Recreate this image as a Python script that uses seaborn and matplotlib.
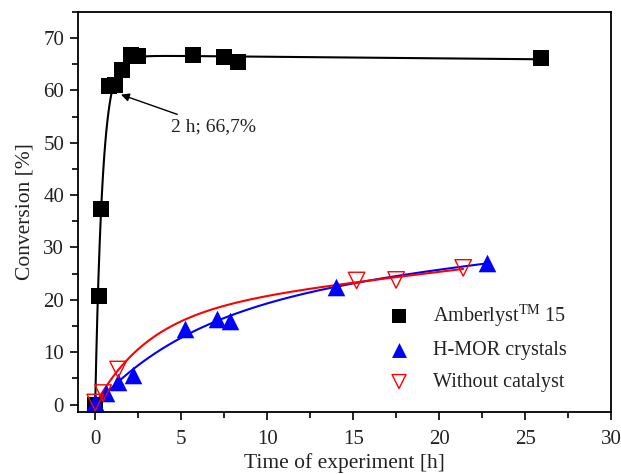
import numpy as np
import pandas as pd
import matplotlib
matplotlib.use("Agg")
import matplotlib.pyplot as plt
from matplotlib.ticker import MultipleLocator
import seaborn as sns

# ---- data ----
amb_t = [0.0, 0.2, 0.35, 0.8, 1.15, 1.55, 2.1, 2.5, 5.7, 7.5, 8.3, 25.9]
amb_y = [0.0, 20.8, 37.4, 60.9, 61.0, 63.8, 66.7, 66.5, 66.7, 66.4, 65.5, 66.2]

hmor_t = [0.0, 0.64, 1.33, 2.2, 5.2, 7.1, 7.86, 14.0, 22.8]
hmor_y = [0.4, 2.3, 4.4, 5.6, 14.5, 16.3, 16.0, 22.5, 27.0]

noc_t = [0.0, 0.46, 1.33, 15.2, 17.5, 21.4]
noc_y = [0.4, 2.2, 6.7, 23.7, 23.8, 26.1]

labels = ["Amberlyst$^{\\mathrm{TM}}$ 15", "H-MOR crystals", "Without catalyst"]

sns.set_theme(style="ticks")
plt.rcParams['font.family'] = ['Liberation Serif', 'DejaVu Serif']
plt.rcParams['mathtext.fontset'] = 'custom'
plt.rcParams['mathtext.rm'] = 'Liberation Serif'


def fit_curve(t, y, rates1, rates2=None, linear=False):
    """Least-squares fit of saturating exponentials (+ optional linear term);
    the exponential amplitudes are kept non-negative so the curve rises smoothly."""
    t = np.asarray(t, float); y = np.asarray(y, float)
    best = None
    r2list = rates2 if rates2 is not None else [None]
    for b in rates1:
        for b2 in r2list:
            cols = [1 - np.exp(-b * t)]
            if b2 is not None:
                cols.append(1 - np.exp(-b2 * t))
            if linear:
                cols.append(t)
            A = np.column_stack(cols)
            coef, *_ = np.linalg.lstsq(A, y, rcond=None)
            nexp = 2 if b2 is not None else 1
            if np.any(coef[:nexp] < 0):
                continue
            err = np.sum((A @ coef - y) ** 2)
            if best is None or err < best[0]:
                best = (err, b, b2, coef)
    _, b, b2, coef = best

    def f(x):
        x = np.asarray(x, float)
        i = 0
        r = coef[i] * (1 - np.exp(-b * x)); i += 1
        if b2 is not None:
            r = r + coef[i] * (1 - np.exp(-b2 * x)); i += 1
        if linear:
            r = r + coef[i] * x
        return r
    return f

f_amb = fit_curve(amb_t, amb_y, np.linspace(0.5, 8, 150), np.linspace(0.05, 1.0, 60), linear=True)
f_hm = fit_curve(hmor_t, hmor_y, np.linspace(0.01, 2, 800), linear=True)
f_nc = fit_curve(noc_t, noc_y, np.linspace(0.01, 2, 800), linear=True)

xa = np.linspace(0, max(amb_t), 800)
xh = np.linspace(0, max(hmor_t), 300)
xn = np.linspace(0, max(noc_t), 300)

fig = plt.figure(figsize=(6.21, 4.74), dpi=100)
ax = fig.add_axes([0.1256, 0.131, 0.8584, 0.844])

sns.lineplot(x=xa, y=f_amb(xa), ax=ax, color="black", lw=1.5, zorder=2)
sns.lineplot(x=xh, y=f_hm(xh), ax=ax, color="blue", lw=1.5, zorder=2)
sns.lineplot(x=xn, y=f_nc(xn), ax=ax, color="red", lw=1.5, zorder=2)

sns.scatterplot(x=amb_t, y=amb_y, ax=ax, marker="s", s=130, color="black",
                edgecolor="black", linewidth=0, zorder=3, label=labels[0])
sns.scatterplot(x=hmor_t, y=hmor_y, ax=ax, marker="^", s=160, color="blue",
                edgecolor="blue", linewidth=0, zorder=3, label=labels[1])
sns.scatterplot(x=noc_t, y=noc_y, ax=ax, marker="v", s=140, facecolor="none",
                edgecolor="red", linewidth=1.0, zorder=4, label=labels[2])

ax.annotate("2 h; 66,7%", xy=(1.5, 59.2), xytext=(4.4, 53.0),
            fontsize=14, va="center", ha="left", color="#222222",
            arrowprops=dict(arrowstyle="-|>", color="black", lw=1.0,
                            shrinkA=2, shrinkB=0, mutation_scale=12))

ax.set_xlim(-1, 30)
ax.set_ylim(-1.4, 75)
ax.xaxis.set_major_locator(MultipleLocator(5))
ax.xaxis.set_minor_locator(MultipleLocator(2.5))
ax.yaxis.set_major_locator(MultipleLocator(10))
ax.yaxis.set_minor_locator(MultipleLocator(5))
ax.tick_params(which="major", direction="out", length=6, width=1.2, labelsize=15,
               top=False, right=False, color="black", labelcolor="#222222", pad=7)
ax.tick_params(axis="y", which="major", pad=4)
ax.tick_params(which="minor", direction="out", length=4, width=1.2,
               top=False, right=False, color="black")
for sp in ax.spines.values():
    sp.set_visible(True)
    sp.set_linewidth(1.3)
    sp.set_color("black")

ax.set_xlabel("Time of experiment [h]", fontsize=15.5, color="#222222")
ax.xaxis.set_label_coords(0.5, -0.102)
ax.set_ylabel("Conversion [%]", fontsize=15.5, labelpad=6, color="#222222")

leg = ax.legend(loc="lower right", bbox_to_anchor=(0.94, 0.02), frameon=False,
                fontsize=14.5, handletextpad=0.7, labelspacing=0.62,
                markerscale=0.85, borderaxespad=0.2)
for t in leg.get_texts():
    t.set_color("#222222")

fig.savefig("out.png", dpi=100)
